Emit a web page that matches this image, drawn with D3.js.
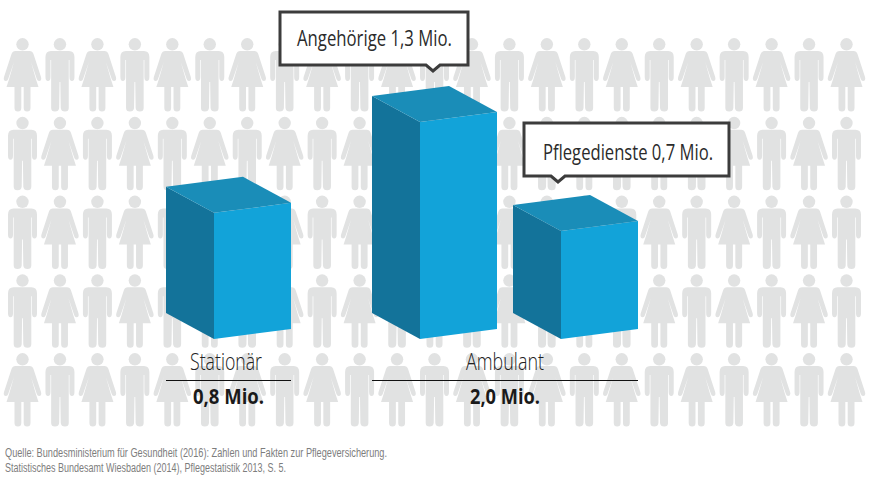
<!DOCTYPE html>
<html>
<head>
<meta charset="utf-8">
<script src="https://cdn.jsdelivr.net/npm/d3@7"></script>
<style>
	html, body { margin: 0; padding: 0; background: #fff; }
	svg { display: block; }
	text { font-family: "Open Sans", sans-serif; }
</style>
</head>
<body>
<svg id="chart" width="883" height="493"></svg>
<script>
// values
const barNames = ['Stationär', 'Angehörige', 'Pflegedienste'];
const barValues = [0.8, 1.3, 0.7];
const groupNames = ['Stationär', 'Ambulant'];
const groupTotals = ['0,8 Mio.', '2,0 Mio.'];
const calloutTexts = ['Angehörige 1,3 Mio.', 'Pflegedienste 0,7 Mio.'];
const sourceLines = [
	'Quelle: Bundesministerium für Gesundheit (2016): Zahlen und Fakten zur Pflegeversicherung.',
	'Statistisches Bundesamt Wiesbaden (2014), Pflegestatistik 2013, S. 5.'
];

// pictogram background: first figure of each row, figures alternate from there
const rowStarts = ['woman', 'man', 'man', 'man', 'woman'];
const columnCount = 23;

const Chart = {
	colour: { front: '#12a3d9', side: '#13739a', top: '#1a8db8', figure: '#e1e2e2', box: '#3c3c3c', text: '#2b2b2b', source: '#7d7d7d' },
	baseY: 339,
	barWidth: 77,
	depth: { x: 48, y: 26 },
	skew: 10,

	svg: null,
	xScale: null,
	heightScale: null,

	init: function() {
		const self = this;

		self.svg = d3.select('#chart');
		self.xScale = d3.scaleOrdinal().domain(barNames).range([214, 420, 561]);
		self.heightScale = d3.scaleLinear().domain([0.7, 1.3]).range([108, 217]);

		self.drawFigures();
		self.drawBars();
		self.drawCallouts();
		self.drawLabels();
		self.drawSource();
	},
	drawFigures: function() {
		const self = this;
		let colX = d3.scaleLinear().domain([0, columnCount - 1]).range([22.5, 846.5]);
		let rowY = d3.scaleLinear().domain([0, rowStarts.length - 1]).range([38, 353]);
		let man = 'M-9,13 L9,13 Q14.5,13 14.5,19 L14.5,39 Q14.5,43 12,43 Q9.5,43 9.5,39 L9.5,22 L8.8,22 L8.8,70 Q8.8,73.5 5,73.5 Q1.2,73.5 0.8,70 L0.4,44 L-0.4,44 L-0.8,70 Q-1.2,73.5 -5,73.5 Q-8.8,73.5 -8.8,70 L-8.8,22 L-9.5,22 L-9.5,39 Q-9.5,43 -12,43 Q-14.5,43 -14.5,39 L-14.5,19 Q-14.5,13 -9,13 Z';
		let woman = 'M-7,13 L7,13 Q10,13 11,16 L18.5,39 Q19.5,43 16.5,43 Q15,43 14.3,41 L8.5,24 L13.4,41 L16,49 L8,49 L8,70 Q8,73.5 4.6,73.5 Q1.2,73.5 1.2,70 L1.2,49 L-1.2,49 L-1.2,70 Q-1.2,73.5 -4.6,73.5 Q-8,73.5 -8,70 L-8,49 L-16,49 L-13.4,41 L-8.5,24 L-14.3,41 Q-15,43 -16.5,43 Q-19.5,43 -18.5,39 L-11,16 Q-10,13 -7,13 Z';
		let figures = [];

		rowStarts.forEach(function(start, row) {
			d3.range(columnCount).forEach(function(col) {
				let other = start == 'man' ? 'woman' : 'man';
				figures.push({ row: row, col: col, type: col % 2 == 0 ? start : other });
			});
		});

		let groups = self.svg.append('g').selectAll('g')
			.data(figures)
			.join('g')
			.attr('transform', d => 'translate(' + colX(d.col) + ',' + rowY(d.row) + ')')
			.attr('fill', self.colour.figure);

		groups.append('circle')
			.attr('cy', 6.3)
			.attr('r', 6.2);
		groups.append('path')
			.attr('d', d => d.type == 'man' ? man : woman);
	},
	drawBars: function() {
		const self = this;
		let bars = barNames.map(function(name, i) {
			let x = self.xScale(name);
			let h = self.heightScale(barValues[i]);
			let y = self.baseY - h;
			return { x: x, y: y };
		});
		let w = self.barWidth, dx = self.depth.x, dy = self.depth.y, s = self.skew, base = self.baseY;
		let poly = points => points.map(p => p.join(',')).join(' ');

		let groups = self.svg.append('g').selectAll('g')
			.data(bars)
			.join('g');

		groups.append('polygon')
			.attr('fill', self.colour.side)
			.attr('points', d => poly([[d.x - dx, d.y - dy], [d.x, d.y], [d.x, base], [d.x - dx, base - dy]]));
		groups.append('polygon')
			.attr('fill', self.colour.front)
			.attr('points', d => poly([[d.x, d.y], [d.x + w, d.y - s], [d.x + w, base - s], [d.x, base]]));
		groups.append('polygon')
			.attr('fill', self.colour.top)
			.attr('points', d => poly([[d.x - dx, d.y - dy], [d.x - dx + w, d.y - dy - s], [d.x + w, d.y - s], [d.x, d.y]]));
	},
	drawCallouts: function() {
		const self = this;
		let boxes = [
			{ text: calloutTexts[0], x0: 280, x1: 468, y0: 12, y1: 65, tip: 433, textX: 297, textW: 155, baseline: 46 },
			{ text: calloutTexts[1], x0: 524, x1: 729, y0: 123, y1: 176, tip: 558, textX: 543, textW: 170, baseline: 160 }
		];

		let groups = self.svg.append('g').selectAll('g')
			.data(boxes)
			.join('g');

		groups.append('path')
			.attr('d', d => 'M' + d.x0 + ',' + d.y0 + ' H' + d.x1 + ' V' + d.y1 + ' H' + (d.tip + 7) + ' L' + d.tip + ',' + (d.y1 + 6) + ' L' + (d.tip - 7) + ',' + d.y1 + ' H' + d.x0 + ' Z')
			.attr('fill', '#fff')
			.attr('stroke', self.colour.box)
			.attr('stroke-width', 3);
		groups.append('text')
			.attr('x', d => d.textX)
			.attr('y', d => d.baseline)
			.attr('font-size', 21.5)
			.attr('fill', self.colour.text)
			.attr('textLength', d => d.textW)
			.attr('lengthAdjust', 'spacingAndGlyphs')
			.text(d => d.text);
	},
	drawLabels: function() {
		const self = this;
		let labels = [
			{ name: groupNames[0], total: groupTotals[0], x0: 166, x1: 291, nameX: 190, nameW: 72, totalX: 193, totalW: 71 },
			{ name: groupNames[1], total: groupTotals[1], x0: 372, x1: 638, nameX: 466, nameW: 78, totalX: 470, totalW: 70 }
		];

		let groups = self.svg.append('g').selectAll('g')
			.data(labels)
			.join('g');

		groups.append('text')
			.attr('x', d => d.nameX)
			.attr('y', 370)
			.attr('font-size', 23)
			.attr('font-weight', 300)
			.attr('fill', '#222')
			.attr('textLength', d => d.nameW)
			.attr('lengthAdjust', 'spacingAndGlyphs')
			.text(d => d.name);
		groups.append('line')
			.attr('x1', d => d.x0)
			.attr('x2', d => d.x1)
			.attr('y1', 380.5)
			.attr('y2', 380.5)
			.attr('stroke', '#111');
		groups.append('text')
			.attr('x', d => d.totalX)
			.attr('y', 403.5)
			.attr('font-size', 22)
			.attr('font-weight', 700)
			.attr('fill', '#1a1a1a')
			.attr('textLength', d => d.totalW)
			.attr('lengthAdjust', 'spacingAndGlyphs')
			.text(d => d.total);
	},
	drawSource: function() {
		const self = this;
		let widths = [382, 281];

		self.svg.append('g').selectAll('text')
			.data(sourceLines)
			.join('text')
			.attr('x', 5)
			.attr('y', (d, i) => 457 + i * 14.7)
			.attr('font-size', 12.5)
			.style('font-family', '"Liberation Sans", sans-serif')
			.attr('fill', self.colour.source)
			.attr('textLength', (d, i) => widths[i])
			.attr('lengthAdjust', 'spacingAndGlyphs')
			.text(d => d);
	}
}

Chart.init();
</script>
</body>
</html>
